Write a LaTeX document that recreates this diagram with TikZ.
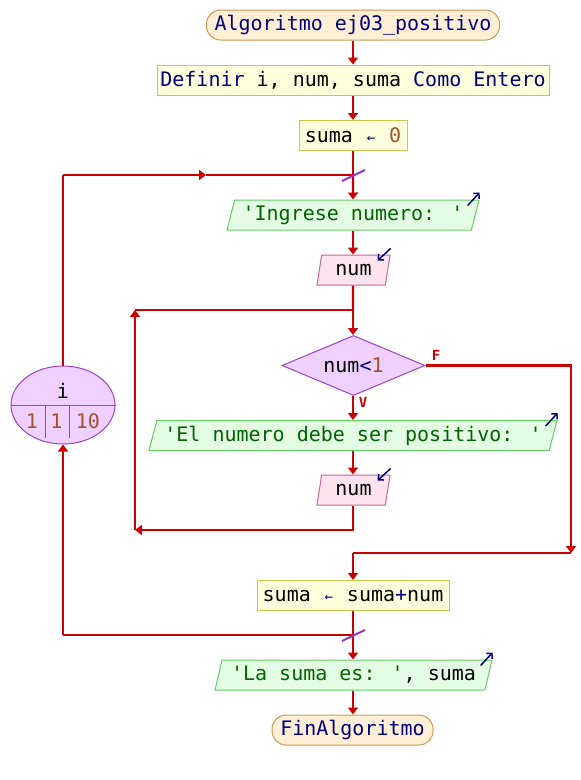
\documentclass[tikz,border=0pt]{standalone}
\usepackage{fontspec}
\newfontfamily\codefont{DejaVu Sans Mono}
\usetikzlibrary{arrows.meta,shapes.geometric,calc}

\definecolor{flow}{HTML}{CC0000}
\definecolor{kw}{HTML}{000080}
\definecolor{numc}{HTML}{A0522D}
\definecolor{strc}{HTML}{006400}
\definecolor{termfill}{HTML}{FFEFD5}
\definecolor{termline}{HTML}{CC9955}
\definecolor{procfill}{HTML}{FFFFDD}
\definecolor{procline}{HTML}{C8C84A}
\definecolor{outfill}{HTML}{E4FCE4}
\definecolor{outline}{HTML}{66CC66}
\definecolor{infill}{HTML}{FFE4F0}
\definecolor{inline}{HTML}{CC6699}
\definecolor{decfill}{HTML}{F0D0FF}
\definecolor{decline}{HTML}{9944CC}
\definecolor{slashc}{HTML}{9933CC}

% assignment arrow, kept at the width of one character
\newcommand\asg{\textcolor{kw}{\makebox[12.04pt]{\fontsize{14}{14}\selectfont ←}}}

\begin{document}
\begin{tikzpicture}[x=1pt,y=-1pt,
  every node/.style={font=\codefont\fontsize{20}{24}\selectfont, inner sep=0pt},
  term/.style={rectangle, rounded corners=14pt, draw=termline, fill=termfill, line width=1pt, minimum height=30pt},
  proc/.style={rectangle, draw=procline, fill=procfill, line width=1pt, minimum height=30pt},
  outp/.style={trapezium, trapezium left angle=68, trapezium right angle=112, trapezium stretches body,
    draw=outline, fill=outfill, line width=1pt, minimum height=30pt},
  inp/.style={trapezium, trapezium left angle=68, trapezium right angle=112, trapezium stretches body,
    draw=inline, fill=infill, line width=1pt, minimum height=30pt},
  dec/.style={diamond, aspect=2.4, draw=decline, fill=decfill, line width=1pt, minimum width=143pt, minimum height=60pt},
  loopnode/.style={ellipse, draw=decline, fill=decfill, line width=1pt, minimum width=104pt, minimum height=78pt},
  loopsep/.style={draw=decline, line width=1pt},
  flowline/.style={draw=flow, line width=2.2pt},
  arr/.style={-{Triangle[length=7pt,width=10pt]}},
  slash/.style={draw=slashc, line width=2pt},
  icon/.style={draw=kw, line width=1.5pt, -{Straight Barb[length=4pt,width=8pt]}},
  lbl/.style={font=\codefont\bfseries\fontsize{14}{14}\selectfont, text=flow}]

\useasboundingbox (0,0) rectangle (581,780);

% main column
\node[term, minimum width=293pt] (start) at (353,25) {\textcolor{kw}{Algoritmo ej03\_positivo}};
\node[proc, minimum width=392pt] (def) at (353,80) {\textcolor{kw}{Definir} i, num, suma \textcolor{kw}{Como Entero}};
\node[proc, minimum width=108pt] (init) at (353,135.5) {suma \asg{} \textcolor{numc}{0}};
\node[outp, minimum width=252pt] (ask) at (353,215) {\textcolor{strc}{'Ingrese numero: '}};
\node[inp, minimum width=73pt] (rd1) at (353.5,270) {num};
\node[dec] (cond) at (353.5,365.5) {num\textcolor{kw}{<}\textcolor{numc}{1}};
\node[outp, minimum width=408pt] (msg) at (353,435.5) {\textcolor{strc}{'El numero debe ser positivo: '}};
\node[inp, minimum width=73pt] (rd2) at (353.5,490) {num};
\node[proc, minimum width=192pt] (acc) at (353,595.5) {suma \asg{} suma\textcolor{kw}{+}num};
\node[outp, minimum width=277pt] (out) at (353.5,675) {\textcolor{strc}{'La suma es: '}, suma};
\node[term, minimum width=161pt] (fin) at (352.5,730) {\textcolor{kw}{FinAlgoritmo}};

% counted loop header
\node[loopnode] (for) at (63,405) {};
\draw[loopsep] (for.west) -- (for.east);
\draw[loopsep] (45,405) -- (45,438);
\draw[loopsep] (69,405) -- (69,438);
\node (forvar) at (63,391) {i};
\node (forfrom) at (32,421) {\textcolor{numc}{1}};
\node (forstep) at (56.5,421) {\textcolor{numc}{1}};
\node (forto) at (88,421) {\textcolor{numc}{10}};

% branch labels
\node[lbl] (flab) at (436,355) {F};
\node[lbl] (vlab) at (363,402) {V};

% junctions and corners
\coordinate (j1) at (353,175);
\coordinate (m1) at (353,310);
\coordinate (lpA) at (353,530);
\coordinate (lpB) at (135,530);
\coordinate (lpC) at (135,310);
\coordinate (fA) at (571,365.5);
\coordinate (fB) at (571,553);
\coordinate (fC) at (353,553);
\coordinate (j2) at (353,635);
\coordinate (bA) at (63,635);
\coordinate (tA) at (63,175);
\coordinate (tM) at (206,175);

% connectors
\draw[flowline,arr] (start.south) -- (def.north);
\draw[flowline,arr] (def.south) -- (init.north);
\draw[flowline] (init.south) -- (j1);
\draw[flowline,arr] (j1) -- (ask.north);
\draw[flowline,arr] (ask.south) -- (ask.south |- rd1.north);
\draw[flowline] (ask.south |- rd1.south) -- (m1);
\draw[flowline,arr] (m1) -- (m1 |- cond.north);
\draw[flowline,arr] (m1 |- cond.south) -- (m1 |- msg.north);
\draw[flowline,arr] (m1 |- msg.south) -- (m1 |- rd2.north);
\draw[flowline,arr] (m1 |- rd2.south) -- (lpA) -- (lpB);
\draw[flowline,arr] (lpB) -- (lpC);
\draw[flowline] (lpC) -- (m1);
\draw[flowline,arr] (cond.east) -- (fA) -- (fB);
\draw[flowline] (fB) -- (fC);
\draw[flowline,arr] (fC) -- (acc.north);
\draw[flowline] (acc.south) -- (j2);
\draw[flowline,arr] (j2) -- (j2 |- out.north);
\draw[flowline,arr] (j2 |- out.south) -- (j2 |- fin.north);
\draw[flowline] (j2) -- (bA);
\draw[flowline,arr] (bA) -- (for.south);
\draw[flowline] (for.north) -- (tA);
\draw[flowline,arr] (tA) -- (tM);
\draw[flowline] (tM) -- (j1);

% loop return marks
\draw[slash] ($(j1)+(-11,6)$) -- ($(j1)+(12,-5)$);
\draw[slash] ($(j2)+(-11,6)$) -- ($(j2)+(12,-5)$);

% input / output marks
\draw[icon] ($(ask.top right corner)+(-12,6)$) -- ($(ask.top right corner)+(0,-7)$);
\draw[icon] ($(msg.top right corner)+(-12,6)$) -- ($(msg.top right corner)+(0,-7)$);
\draw[icon] ($(out.top right corner)+(-12,6)$) -- ($(out.top right corner)+(0,-7)$);
\draw[icon] ($(rd1.top right corner)+(0,-6)$) -- ($(rd1.top right corner)+(-13,6)$);
\draw[icon] ($(rd2.top right corner)+(0,-6)$) -- ($(rd2.top right corner)+(-13,6)$);

\end{tikzpicture}
\end{document}
